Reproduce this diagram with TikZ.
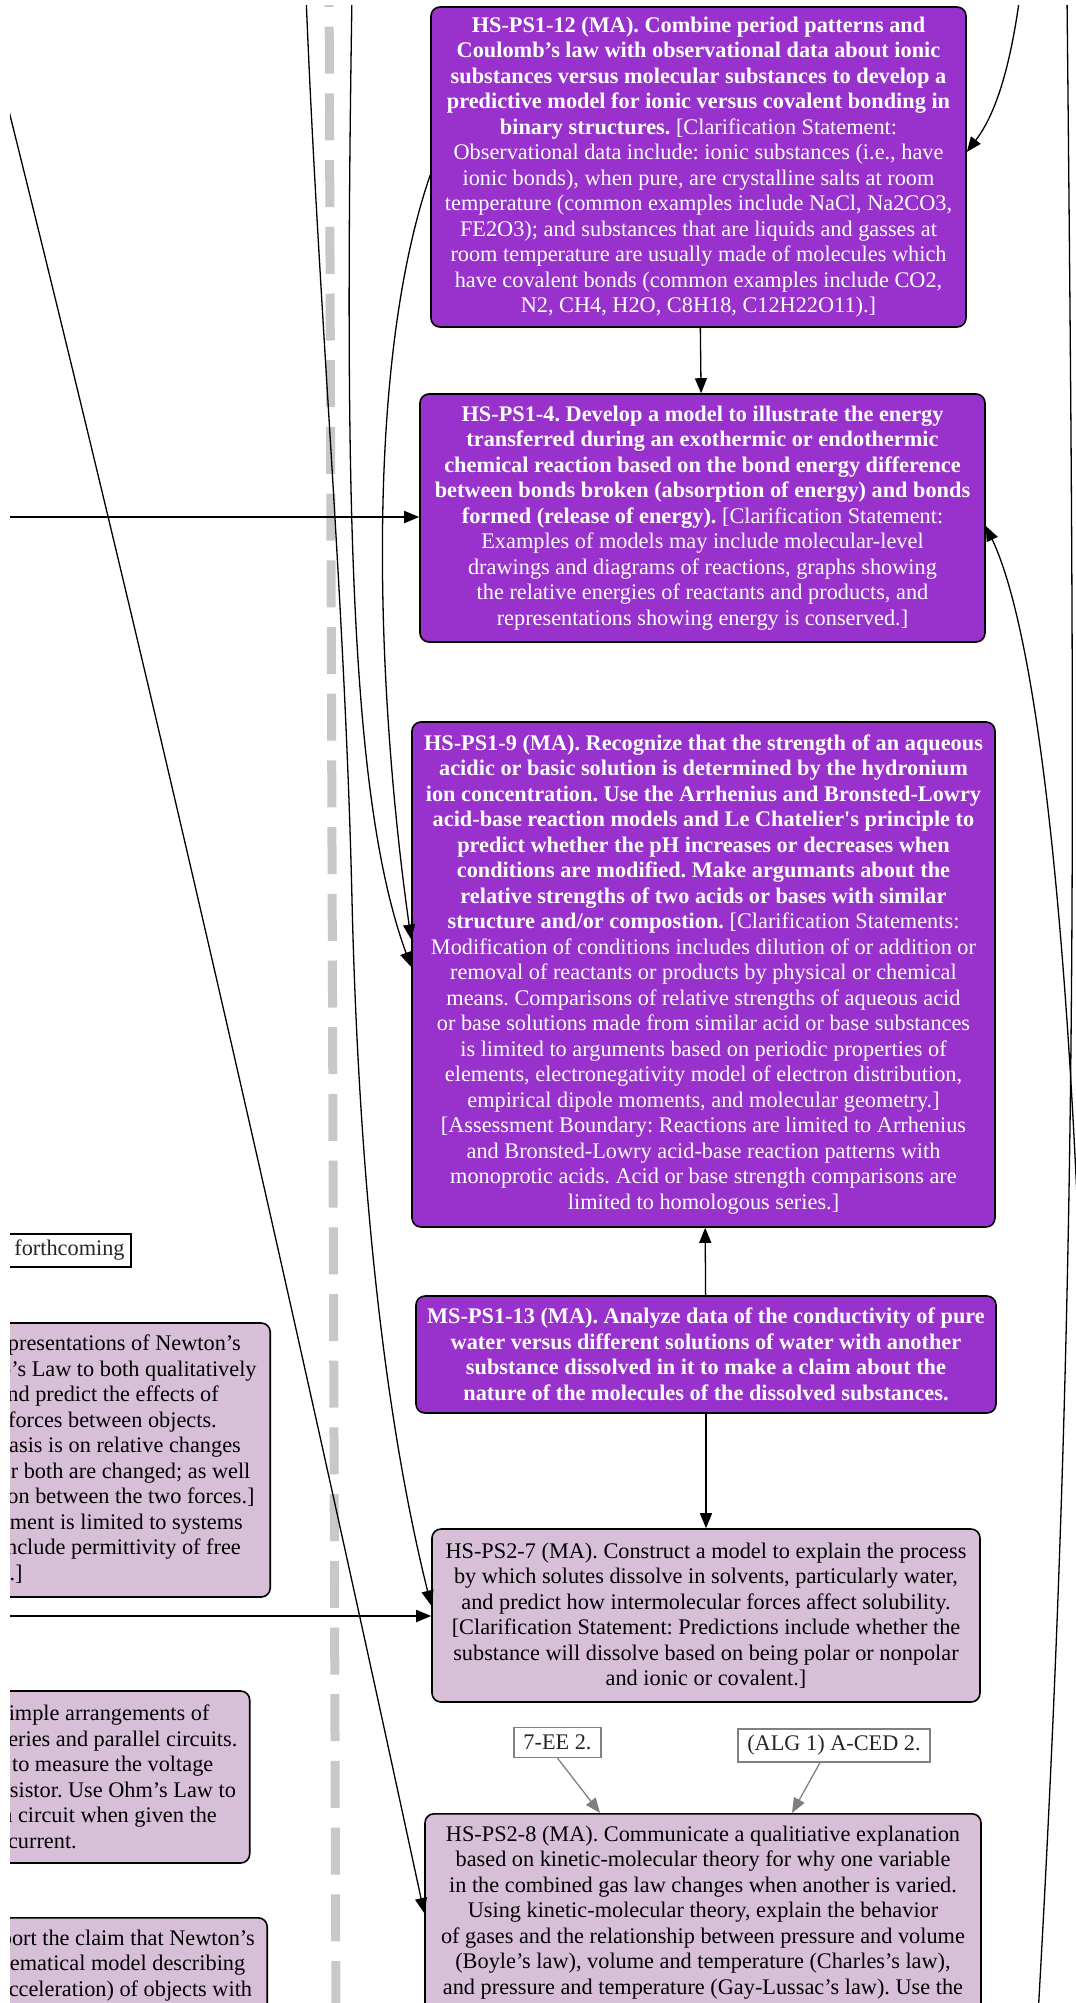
\documentclass[tikz,border=0pt]{standalone}
\usepackage[rgb]{xcolor}
\usepackage{tikz}
\usepackage{fontspec}
\usetikzlibrary{arrows.meta}

\newfontfamily\stdfont{Liberation Serif}

\definecolor{stdpurple}{RGB}{153,50,204}
\definecolor{stdthistle}{RGB}{216,191,216}
\definecolor{stdgray}{RGB}{200,200,200}
\definecolor{mathgray}{RGB}{128,128,128}

\tikzset{
  mastd/.style={draw=black, line width=1.6pt, fill=stdpurple, text=white,
    rounded corners=9pt, align=center, inner sep=0pt,
    font=\stdfont\fontsize{22.3}{25.5}\selectfont\frenchspacing},
  nextstd/.style={mastd, fill=stdthistle, text=black},
  mathstd/.style={draw=mathgray, line width=1.3pt, fill=white, text=black!85,
    inner sep=0pt, font=\stdfont\fontsize{22.3}{25.5}\selectfont},
  link/.style={-{Triangle[length=15pt,width=12pt]}, line width=1.3pt},
  mathlink/.style={link, color=mathgray}
}

\begin{document}
\begin{tikzpicture}[x=1pt, y=-1pt]

\useasboundingbox (0,0) rectangle (1076,2003);
\clip (10,5) rectangle (1076,2003);


% Chemistry standards
\node[mastd, minimum width=535pt, minimum height=320pt] (ps112) at (698.5,167)
  {\textbf{HS-PS1-12 (MA). Combine period patterns and}\\
   \textbf{Coulomb’s law with observational data about ionic}\\
   \textbf{substances versus molecular substances to develop a}\\
   \textbf{predictive model for ionic versus covalent bonding in}\\
   \textbf{binary structures.} [Clarification Statement:\\
   Observational data include: ionic substances (i.e., have\\
   ionic bonds), when pure, are crystalline salts at room\\
   temperature (common examples include NaCl, Na2CO3,\\
   FE2O3); and substances that are liquids and gasses at\\
   room temperature are usually made of molecules which\\
   have covalent bonds (common examples include CO2,\\
   N2, CH4, H2O, C8H18, C12H22O11).]};

\node[mastd, minimum width=565pt, minimum height=248pt] (ps14) at (702.5,518)
  {\textbf{HS-PS1-4. Develop a model to illustrate the energy}\\
   \textbf{transferred during an exothermic or endothermic}\\
   \textbf{chemical reaction based on the bond energy difference}\\
   \textbf{between bonds broken (absorption of energy) and bonds}\\
   \textbf{formed (release of energy).} [Clarification Statement:\\
   Examples of models may include molecular-level\\
   drawings and diagrams of reactions, graphs showing\\
   the relative energies of reactants and products, and\\
   representations showing energy is conserved.]};

\node[mastd, minimum width=583pt, minimum height=505pt] (ps19) at (703.5,974.5)
  {\textbf{HS-PS1-9 (MA). Recognize that the strength of an aqueous}\\
   \textbf{acidic or basic solution is determined by the hydronium}\\
   \textbf{ion concentration. Use the Arrhenius and Bronsted-Lowry}\\
   \textbf{acid-base reaction models and Le Chatelier's principle to}\\
   \textbf{predict whether the pH increases or decreases when}\\
   \textbf{conditions are modified. Make argumants about the}\\
   \textbf{relative strengths of two acids or bases with similar}\\
   \textbf{structure and/or compostion.} [Clarification Statements:\\
   Modification of conditions includes dilution of or addition or\\
   removal of reactants or products by physical or chemical\\
   means. Comparisons of relative strengths of aqueous acid\\
   or base solutions made from similar acid or base substances\\
   is limited to arguments based on periodic properties of\\
   elements, electronegativity model of electron distribution,\\
   empirical dipole moments, and molecular geometry.]\\
   {[}Assessment Boundary: Reactions are limited to Arrhenius\\
   and Bronsted-Lowry acid-base reaction patterns with\\
   monoprotic acids. Acid or base strength comparisons are\\
   limited to homologous series.]};

\node[mastd, minimum width=580pt, minimum height=117pt] (ms113) at (706,1354.5)
  {\textbf{MS-PS1-13 (MA). Analyze data of the conductivity of pure}\\
   \textbf{water versus different solutions of water with another}\\
   \textbf{substance dissolved in it to make a claim about the}\\
   \textbf{nature of the molecules of the dissolved substances.}};


% Physics standards
\node[nextstd, minimum width=548pt, minimum height=173pt] (ps27) at (706,1615.5)
  {HS-PS2-7 (MA). Construct a model to explain the process\\
   by which solutes dissolve in solvents, particularly water,\\
   and predict how intermolecular forces affect solubility.\\
   {[}Clarification Statement: Predictions include whether the\\
   substance will dissolve based on being polar or nonpolar\\
   and ionic or covalent.]};

\node[nextstd, minimum width=556pt, anchor=north, inner ysep=12pt, text depth=200pt] (ps28) at (703,1813)
  {HS-PS2-8 (MA). Communicate a qualitiative explanation\\
   based on kinetic-molecular theory for why one variable\\
   in the combined gas law changes when another is varied.\\
   Using kinetic-molecular theory, explain the behavior\\
   of gases and the relationship between pressure and volume\\
   (Boyle’s law), volume and temperature (Charles’s law),\\
   and pressure and temperature (Gay-Lussac’s law). Use the};

\node[nextstd, align=right, anchor=east, inner xsep=13.6pt, minimum height=274pt] (ps24) at (271,1460)
  {representations of Newton’s\rule{15.8pt}{0pt}\\
   Coulomb’s Law to both qualitatively\\
   and predict the effects of\rule{37.8pt}{0pt}\\
   forces between objects.\rule{39.8pt}{0pt}\\
   Emphasis is on relative changes\rule{15.8pt}{0pt}\\
   or both are changed; as well\rule{6.2pt}{0pt}\\
   comparison between the two forces.]\rule{2.1pt}{0pt}\\
   Assessment is limited to systems\rule{13.8pt}{0pt}\\
   include permittivity of free\rule{15.8pt}{0pt}\\
   space.]\rule{234pt}{0pt}};

\node[nextstd, align=right, anchor=east, inner xsep=12.3pt, minimum height=172pt] (ps29) at (250.5,1777)
  {simple arrangements of\rule{28pt}{0pt}\\
   series and parallel circuits.\\
   to measure the voltage\rule{24.1pt}{0pt}\\
   resistor. Use Ohm’s Law to\rule{1.4pt}{0pt}\\
   a circuit when given the\rule{20.6pt}{0pt}\\
   current.\rule{160.6pt}{0pt}};

\node[nextstd, align=right, anchor=north east, inner xsep=12.4pt, inner ysep=12pt, text depth=200pt] (ps21) at (268,1917)
  {support the claim that Newton’s\\
   mathematical model describing\rule{9.6pt}{0pt}\\
   acceleration) of objects with\rule{2.7pt}{0pt}};

\node[mathstd, draw=black, minimum width=123pt, minimum height=33pt] (fcoming) at (69.5,1250.5) {forthcoming};


% Math standards
\node[mathstd, minimum width=87pt, minimum height=30pt] (ee2) at (557.5,1742.5) {7-EE 2.};
\node[mathstd, minimum width=192pt, minimum height=33pt] (aced2) at (834,1745.5) {(ALG 1) A-CED 2.};


% Grade band divider
\draw[stdgray, line width=9pt, dash pattern=on 47pt off 19.7pt] (329,-40) -- (336,2030);


% Links between standards
\draw[link] (ps112) -- (ps14);
\draw[link] (ms113) -- (ps19);
\draw[link] (ms113) -- (ps27);

\draw[link] ([yshift=-8pt]ps112.west) .. controls (360,380) and (380,720) .. ([yshift=35pt]ps19.west);

\coordinate (top19) at (352,-5);
\draw[link] (top19) .. controls (344,500) and (350,800) .. ([yshift=7.5pt]ps19.west);

\coordinate (top27) at (306,-5);
\draw[link] (top27) .. controls (318,300) and (345,600) .. (352,900)
  .. controls (358,1150) and (380,1400) .. ([yshift=10pt]ps27.west);

\coordinate (in14) at (0,517);
\draw[link, line width=1.8pt] (in14) -- (in14 -| ps14.west);

\coordinate (in27) at (0,1616);
\draw[link, line width=1.8pt] (in27) -- (in27 -| ps27.west);

\coordinate (in28) at (0,75);
\draw[link] (in28) .. controls (153,687) and (292,1300) .. (ps28.west |- 0,1913);


% Links on the right
\coordinate (top112) at (1020,-5);
\draw[link] (top112) .. controls (1010,70) and (995,115) .. ([yshift=15pt]ps112.east);

\coordinate (out14) at (1080,1270);
\draw[link] (out14) .. controls (1068,950) and (1040,640) .. ([yshift=-8pt]ps14.east);

\coordinate (topright) at (1067,-5);
\coordinate (botright) at (1036,2050);
\draw[line width=1.3pt] (topright) .. controls (1075,800) and (1080,1300) .. (botright);


% Math links
\draw[mathlink] (ee2.south) -- (ps28.north -| 600,0);
\draw[mathlink] ([xshift=-14pt]aced2.south) -- (ps28.north -| 792,0);

\end{tikzpicture}
\end{document}
